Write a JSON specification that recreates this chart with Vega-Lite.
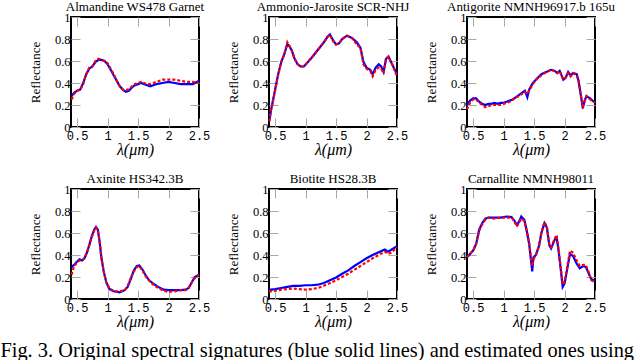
{
  "$schema": "https://vega.github.io/schema/vega-lite/v6.json",
  "padding": {"left": 0, "top": 0, "right": 0, "bottom": 0},
  "background": "white",
  "data": {"values": [
    {"m":1,"x":0.41,"b":0.28,"r":0.25},{"m":1,"x":0.45,"b":0.31,"r":0.30},{"m":1,"x":0.5,"b":0.33,"r":0.33},{"m":1,"x":0.55,"b":0.34,"r":0.34},{"m":1,"x":0.6,"b":0.40,"r":0.39},{"m":1,"x":0.65,"b":0.48,"r":0.48},{"m":1,"x":0.7,"b":0.53,"r":0.54},{"m":1,"x":0.75,"b":0.55,"r":0.55},{"m":1,"x":0.8,"b":0.59,"r":0.60},{"m":1,"x":0.85,"b":0.61,"r":0.62},{"m":1,"x":0.9,"b":0.61,"r":0.61},{"m":1,"x":0.95,"b":0.60,"r":0.60},{"m":1,"x":1.0,"b":0.57,"r":0.58},{"m":1,"x":1.05,"b":0.52,"r":0.53},{"m":1,"x":1.1,"b":0.47,"r":0.48},{"m":1,"x":1.15,"b":0.42,"r":0.42},{"m":1,"x":1.2,"b":0.37,"r":0.37},{"m":1,"x":1.25,"b":0.34,"r":0.34},{"m":1,"x":1.3,"b":0.32,"r":0.34},{"m":1,"x":1.35,"b":0.33,"r":0.34},{"m":1,"x":1.4,"b":0.36,"r":0.37},{"m":1,"x":1.45,"b":0.38,"r":0.39},{"m":1,"x":1.5,"b":0.39,"r":0.40},{"m":1,"x":1.55,"b":0.40,"r":0.41},{"m":1,"x":1.6,"b":0.39,"r":0.40},{"m":1,"x":1.65,"b":0.38,"r":0.39},{"m":1,"x":1.7,"b":0.37,"r":0.39},{"m":1,"x":1.75,"b":0.38,"r":0.40},{"m":1,"x":1.8,"b":0.39,"r":0.41},{"m":1,"x":1.9,"b":0.40,"r":0.43},{"m":1,"x":2.0,"b":0.41,"r":0.43},{"m":1,"x":2.1,"b":0.40,"r":0.43},{"m":1,"x":2.2,"b":0.39,"r":0.42},{"m":1,"x":2.3,"b":0.39,"r":0.41},{"m":1,"x":2.4,"b":0.39,"r":0.41},{"m":1,"x":2.5,"b":0.42,"r":0.40},

    {"m":2,"x":0.41,"b":0.07,"r":0.05},{"m":2,"x":0.43,"b":0.14,"r":0.17},{"m":2,"x":0.45,"b":0.20,"r":0.19},{"m":2,"x":0.5,"b":0.34,"r":0.33},{"m":2,"x":0.55,"b":0.48,"r":0.47},{"m":2,"x":0.6,"b":0.59,"r":0.59},{"m":2,"x":0.65,"b":0.66,"r":0.66},{"m":2,"x":0.7,"b":0.75,"r":0.77},{"m":2,"x":0.73,"b":0.74,"r":0.74},{"m":2,"x":0.77,"b":0.70,"r":0.70},{"m":2,"x":0.82,"b":0.62,"r":0.62},{"m":2,"x":0.87,"b":0.57,"r":0.57},{"m":2,"x":0.92,"b":0.55,"r":0.55},{"m":2,"x":0.97,"b":0.55,"r":0.55},{"m":2,"x":1.02,"b":0.58,"r":0.58},{"m":2,"x":1.1,"b":0.63,"r":0.63},{"m":2,"x":1.2,"b":0.70,"r":0.70},{"m":2,"x":1.3,"b":0.77,"r":0.77},{"m":2,"x":1.36,"b":0.82,"r":0.82},{"m":2,"x":1.4,"b":0.84,"r":0.84},{"m":2,"x":1.45,"b":0.79,"r":0.78},{"m":2,"x":1.5,"b":0.75,"r":0.75},{"m":2,"x":1.55,"b":0.76,"r":0.76},{"m":2,"x":1.6,"b":0.80,"r":0.80},{"m":2,"x":1.68,"b":0.83,"r":0.83},{"m":2,"x":1.76,"b":0.81,"r":0.81},{"m":2,"x":1.84,"b":0.77,"r":0.75},{"m":2,"x":1.9,"b":0.72,"r":0.72},{"m":2,"x":1.95,"b":0.59,"r":0.57},{"m":2,"x":2.0,"b":0.54,"r":0.53},{"m":2,"x":2.06,"b":0.52,"r":0.51},{"m":2,"x":2.1,"b":0.48,"r":0.46},{"m":2,"x":2.15,"b":0.54,"r":0.52},{"m":2,"x":2.2,"b":0.57,"r":0.54},{"m":2,"x":2.24,"b":0.55,"r":0.53},{"m":2,"x":2.28,"b":0.50,"r":0.49},{"m":2,"x":2.32,"b":0.62,"r":0.62},{"m":2,"x":2.36,"b":0.64,"r":0.64},{"m":2,"x":2.42,"b":0.57,"r":0.57},{"m":2,"x":2.5,"b":0.48,"r":0.46},

    {"m":3,"x":0.4,"b":0.20,"r":0.16},{"m":3,"x":0.45,"b":0.24,"r":0.22},{"m":3,"x":0.5,"b":0.26,"r":0.25},{"m":3,"x":0.55,"b":0.26,"r":0.25},{"m":3,"x":0.6,"b":0.23,"r":0.22},{"m":3,"x":0.65,"b":0.21,"r":0.20},{"m":3,"x":0.7,"b":0.20,"r":0.18},{"m":3,"x":0.75,"b":0.21,"r":0.19},{"m":3,"x":0.8,"b":0.21,"r":0.20},{"m":3,"x":0.85,"b":0.22,"r":0.20},{"m":3,"x":0.9,"b":0.21,"r":0.20},{"m":3,"x":0.95,"b":0.22,"r":0.20},{"m":3,"x":1.0,"b":0.22,"r":0.21},{"m":3,"x":1.05,"b":0.23,"r":0.22},{"m":3,"x":1.1,"b":0.24,"r":0.23},{"m":3,"x":1.15,"b":0.25,"r":0.25},{"m":3,"x":1.2,"b":0.27,"r":0.27},{"m":3,"x":1.25,"b":0.29,"r":0.28},{"m":3,"x":1.3,"b":0.31,"r":0.30},{"m":3,"x":1.35,"b":0.33,"r":0.32},{"m":3,"x":1.39,"b":0.27,"r":0.30},{"m":3,"x":1.42,"b":0.34,"r":0.33},{"m":3,"x":1.48,"b":0.40,"r":0.39},{"m":3,"x":1.55,"b":0.44,"r":0.44},{"m":3,"x":1.62,"b":0.48,"r":0.47},{"m":3,"x":1.7,"b":0.50,"r":0.50},{"m":3,"x":1.78,"b":0.52,"r":0.52},{"m":3,"x":1.84,"b":0.51,"r":0.51},{"m":3,"x":1.88,"b":0.49,"r":0.49},{"m":3,"x":1.92,"b":0.51,"r":0.51},{"m":3,"x":1.98,"b":0.43,"r":0.43},{"m":3,"x":2.02,"b":0.45,"r":0.45},{"m":3,"x":2.06,"b":0.50,"r":0.49},{"m":3,"x":2.1,"b":0.47,"r":0.46},{"m":3,"x":2.14,"b":0.49,"r":0.49},{"m":3,"x":2.2,"b":0.48,"r":0.47},{"m":3,"x":2.23,"b":0.42,"r":0.42},{"m":3,"x":2.27,"b":0.28,"r":0.28},{"m":3,"x":2.3,"b":0.17,"r":0.19},{"m":3,"x":2.33,"b":0.24,"r":0.23},{"m":3,"x":2.36,"b":0.28,"r":0.28},{"m":3,"x":2.42,"b":0.26,"r":0.25},{"m":3,"x":2.5,"b":0.22,"r":0.22},

    {"m":4,"x":0.41,"b":0.29,"r":0.22},{"m":4,"x":0.45,"b":0.31,"r":0.30},{"m":4,"x":0.5,"b":0.34,"r":0.33},{"m":4,"x":0.54,"b":0.36,"r":0.35},{"m":4,"x":0.58,"b":0.35,"r":0.35},{"m":4,"x":0.62,"b":0.37,"r":0.37},{"m":4,"x":0.66,"b":0.42,"r":0.42},{"m":4,"x":0.7,"b":0.49,"r":0.49},{"m":4,"x":0.74,"b":0.57,"r":0.56},{"m":4,"x":0.78,"b":0.63,"r":0.62},{"m":4,"x":0.81,"b":0.655,"r":0.65},{"m":4,"x":0.84,"b":0.63,"r":0.63},{"m":4,"x":0.87,"b":0.52,"r":0.52},{"m":4,"x":0.9,"b":0.37,"r":0.37},{"m":4,"x":0.94,"b":0.24,"r":0.24},{"m":4,"x":0.98,"b":0.15,"r":0.15},{"m":4,"x":1.03,"b":0.09,"r":0.10},{"m":4,"x":1.1,"b":0.07,"r":0.07},{"m":4,"x":1.2,"b":0.06,"r":0.07},{"m":4,"x":1.28,"b":0.08,"r":0.08},{"m":4,"x":1.33,"b":0.11,"r":0.12},{"m":4,"x":1.38,"b":0.18,"r":0.19},{"m":4,"x":1.43,"b":0.26,"r":0.25},{"m":4,"x":1.48,"b":0.30,"r":0.29},{"m":4,"x":1.52,"b":0.305,"r":0.30},{"m":4,"x":1.57,"b":0.27,"r":0.26},{"m":4,"x":1.62,"b":0.22,"r":0.21},{"m":4,"x":1.68,"b":0.17,"r":0.17},{"m":4,"x":1.75,"b":0.14,"r":0.13},{"m":4,"x":1.83,"b":0.11,"r":0.10},{"m":4,"x":1.92,"b":0.085,"r":0.075},{"m":4,"x":2.0,"b":0.08,"r":0.065},{"m":4,"x":2.1,"b":0.08,"r":0.07},{"m":4,"x":2.2,"b":0.08,"r":0.08},{"m":4,"x":2.28,"b":0.085,"r":0.08},{"m":4,"x":2.33,"b":0.10,"r":0.10},{"m":4,"x":2.38,"b":0.15,"r":0.15},{"m":4,"x":2.43,"b":0.20,"r":0.19},{"m":4,"x":2.5,"b":0.22,"r":0.22},

    {"m":5,"x":0.4,"b":0.083,"r":0.07},{"m":5,"x":0.5,"b":0.09,"r":0.075},{"m":5,"x":0.6,"b":0.10,"r":0.085},{"m":5,"x":0.7,"b":0.11,"r":0.09},{"m":5,"x":0.8,"b":0.12,"r":0.095},{"m":5,"x":0.9,"b":0.12,"r":0.09},{"m":5,"x":1.0,"b":0.125,"r":0.085},{"m":5,"x":1.1,"b":0.125,"r":0.09},{"m":5,"x":1.2,"b":0.13,"r":0.10},{"m":5,"x":1.3,"b":0.145,"r":0.12},{"m":5,"x":1.4,"b":0.17,"r":0.145},{"m":5,"x":1.5,"b":0.195,"r":0.17},{"m":5,"x":1.6,"b":0.23,"r":0.20},{"m":5,"x":1.7,"b":0.26,"r":0.23},{"m":5,"x":1.8,"b":0.30,"r":0.265},{"m":5,"x":1.9,"b":0.335,"r":0.30},{"m":5,"x":2.0,"b":0.37,"r":0.335},{"m":5,"x":2.1,"b":0.40,"r":0.37},{"m":5,"x":2.2,"b":0.425,"r":0.40},{"m":5,"x":2.3,"b":0.45,"r":0.43},{"m":5,"x":2.35,"b":0.43,"r":0.41},{"m":5,"x":2.4,"b":0.445,"r":0.42},{"m":5,"x":2.5,"b":0.48,"r":0.47},

    {"m":6,"x":0.4,"b":0.38,"r":0.38},{"m":6,"x":0.45,"b":0.41,"r":0.41},{"m":6,"x":0.5,"b":0.44,"r":0.44},{"m":6,"x":0.55,"b":0.50,"r":0.50},{"m":6,"x":0.6,"b":0.63,"r":0.62},{"m":6,"x":0.65,"b":0.69,"r":0.68},{"m":6,"x":0.7,"b":0.73,"r":0.72},{"m":6,"x":0.75,"b":0.74,"r":0.74},{"m":6,"x":0.85,"b":0.74,"r":0.73},{"m":6,"x":0.95,"b":0.74,"r":0.74},{"m":6,"x":1.05,"b":0.75,"r":0.74},{"m":6,"x":1.13,"b":0.745,"r":0.74},{"m":6,"x":1.18,"b":0.71,"r":0.70},{"m":6,"x":1.22,"b":0.67,"r":0.66},{"m":6,"x":1.26,"b":0.71,"r":0.70},{"m":6,"x":1.29,"b":0.75,"r":0.73},{"m":6,"x":1.34,"b":0.72,"r":0.71},{"m":6,"x":1.38,"b":0.62,"r":0.62},{"m":6,"x":1.42,"b":0.50,"r":0.51},{"m":6,"x":1.45,"b":0.35,"r":0.37},{"m":6,"x":1.47,"b":0.25,"r":0.30},{"m":6,"x":1.49,"b":0.38,"r":0.36},{"m":6,"x":1.53,"b":0.40,"r":0.40},{"m":6,"x":1.58,"b":0.48,"r":0.48},{"m":6,"x":1.62,"b":0.60,"r":0.60},{"m":6,"x":1.67,"b":0.69,"r":0.70},{"m":6,"x":1.71,"b":0.65,"r":0.66},{"m":6,"x":1.75,"b":0.49,"r":0.50},{"m":6,"x":1.78,"b":0.46,"r":0.47},{"m":6,"x":1.84,"b":0.54,"r":0.55},{"m":6,"x":1.87,"b":0.56,"r":0.58},{"m":6,"x":1.9,"b":0.45,"r":0.46},{"m":6,"x":1.94,"b":0.26,"r":0.28},{"m":6,"x":1.97,"b":0.11,"r":0.13},{"m":6,"x":2.0,"b":0.14,"r":0.15},{"m":6,"x":2.05,"b":0.29,"r":0.31},{"m":6,"x":2.09,"b":0.41,"r":0.44},{"m":6,"x":2.14,"b":0.39,"r":0.42},{"m":6,"x":2.2,"b":0.32,"r":0.35},{"m":6,"x":2.25,"b":0.28,"r":0.30},{"m":6,"x":2.31,"b":0.30,"r":0.31},{"m":6,"x":2.35,"b":0.29,"r":0.31},{"m":6,"x":2.39,"b":0.24,"r":0.25},{"m":6,"x":2.44,"b":0.18,"r":0.17},{"m":6,"x":2.5,"b":0.17,"r":0.15}
  ]},
  "columns": 3,
  "bounds": "flush",
  "spacing": {"row": 62, "column": 70},
  "concat": [
    {"title": "Almandine WS478 Garnet", "width": 128, "height": 110, "transform": [{"filter": "datum.m == 1"}],
     "layer": [
      {"mark": {"type": "line", "color": "#0000ff", "strokeWidth": 2.2},
       "encoding": {"x": {"field": "x", "type": "quantitative", "scale": {"domain": [0.4, 2.5], "nice": false, "zero": false}, "axis": {"orient": "bottom", "values": [0.5, 1, 1.5, 2, 2.5], "format": "~g", "title": "λ(μm)"}},
                    "y": {"field": "b", "type": "quantitative", "scale": {"domain": [0, 1], "nice": false}, "axis": {"orient": "left", "values": [0, 0.2, 0.4, 0.6, 0.8, 1], "format": "~g", "title": "Reflectance"}}}},
      {"mark": {"type": "line", "color": "#ff0000", "strokeWidth": 2.2, "strokeDash": [3, 2]},
       "encoding": {"x": {"field": "x", "type": "quantitative", "axis": {"orient": "top", "values": [0.5, 1, 1.5, 2, 2.5], "labels": false, "title": null}},
                    "y": {"field": "r", "type": "quantitative", "axis": {"orient": "right", "values": [0, 0.2, 0.4, 0.6, 0.8, 1], "labels": false, "title": null}}}}
     ], "resolve": {"axis": {"x": "independent", "y": "independent"}}},
    {"title": "Ammonio-Jarosite SCR-NHJ", "width": 128, "height": 110, "transform": [{"filter": "datum.m == 2"}],
     "layer": [
      {"mark": {"type": "line", "color": "#0000ff", "strokeWidth": 2.2},
       "encoding": {"x": {"field": "x", "type": "quantitative", "scale": {"domain": [0.4, 2.5], "nice": false, "zero": false}, "axis": {"orient": "bottom", "values": [0.5, 1, 1.5, 2, 2.5], "format": "~g", "title": "λ(μm)"}},
                    "y": {"field": "b", "type": "quantitative", "scale": {"domain": [0, 1], "nice": false}, "axis": {"orient": "left", "values": [0, 0.2, 0.4, 0.6, 0.8, 1], "format": "~g", "title": "Reflectance"}}}},
      {"mark": {"type": "line", "color": "#ff0000", "strokeWidth": 2.2, "strokeDash": [3, 2]},
       "encoding": {"x": {"field": "x", "type": "quantitative", "axis": {"orient": "top", "values": [0.5, 1, 1.5, 2, 2.5], "labels": false, "title": null}},
                    "y": {"field": "r", "type": "quantitative", "axis": {"orient": "right", "values": [0, 0.2, 0.4, 0.6, 0.8, 1], "labels": false, "title": null}}}}
     ], "resolve": {"axis": {"x": "independent", "y": "independent"}}},
    {"title": "Antigorite NMNH96917.b 165u", "width": 128, "height": 110, "transform": [{"filter": "datum.m == 3"}],
     "layer": [
      {"mark": {"type": "line", "color": "#0000ff", "strokeWidth": 2.2},
       "encoding": {"x": {"field": "x", "type": "quantitative", "scale": {"domain": [0.4, 2.5], "nice": false, "zero": false}, "axis": {"orient": "bottom", "values": [0.5, 1, 1.5, 2, 2.5], "format": "~g", "title": "λ(μm)"}},
                    "y": {"field": "b", "type": "quantitative", "scale": {"domain": [0, 1], "nice": false}, "axis": {"orient": "left", "values": [0, 0.2, 0.4, 0.6, 0.8, 1], "format": "~g", "title": "Reflectance"}}}},
      {"mark": {"type": "line", "color": "#ff0000", "strokeWidth": 2.2, "strokeDash": [3, 2]},
       "encoding": {"x": {"field": "x", "type": "quantitative", "axis": {"orient": "top", "values": [0.5, 1, 1.5, 2, 2.5], "labels": false, "title": null}},
                    "y": {"field": "r", "type": "quantitative", "axis": {"orient": "right", "values": [0, 0.2, 0.4, 0.6, 0.8, 1], "labels": false, "title": null}}}}
     ], "resolve": {"axis": {"x": "independent", "y": "independent"}}},
    {"title": "Axinite HS342.3B", "width": 128, "height": 110, "transform": [{"filter": "datum.m == 4"}],
     "layer": [
      {"mark": {"type": "line", "color": "#0000ff", "strokeWidth": 2.2},
       "encoding": {"x": {"field": "x", "type": "quantitative", "scale": {"domain": [0.4, 2.5], "nice": false, "zero": false}, "axis": {"orient": "bottom", "values": [0.5, 1, 1.5, 2, 2.5], "format": "~g", "title": "λ(μm)"}},
                    "y": {"field": "b", "type": "quantitative", "scale": {"domain": [0, 1], "nice": false}, "axis": {"orient": "left", "values": [0, 0.2, 0.4, 0.6, 0.8, 1], "format": "~g", "title": "Reflectance"}}}},
      {"mark": {"type": "line", "color": "#ff0000", "strokeWidth": 2.2, "strokeDash": [3, 2]},
       "encoding": {"x": {"field": "x", "type": "quantitative", "axis": {"orient": "top", "values": [0.5, 1, 1.5, 2, 2.5], "labels": false, "title": null}},
                    "y": {"field": "r", "type": "quantitative", "axis": {"orient": "right", "values": [0, 0.2, 0.4, 0.6, 0.8, 1], "labels": false, "title": null}}}}
     ], "resolve": {"axis": {"x": "independent", "y": "independent"}}},
    {"title": "Biotite HS28.3B", "width": 128, "height": 110, "transform": [{"filter": "datum.m == 5"}],
     "layer": [
      {"mark": {"type": "line", "color": "#0000ff", "strokeWidth": 2.2},
       "encoding": {"x": {"field": "x", "type": "quantitative", "scale": {"domain": [0.4, 2.5], "nice": false, "zero": false}, "axis": {"orient": "bottom", "values": [0.5, 1, 1.5, 2, 2.5], "format": "~g", "title": "λ(μm)"}},
                    "y": {"field": "b", "type": "quantitative", "scale": {"domain": [0, 1], "nice": false}, "axis": {"orient": "left", "values": [0, 0.2, 0.4, 0.6, 0.8, 1], "format": "~g", "title": "Reflectance"}}}},
      {"mark": {"type": "line", "color": "#ff0000", "strokeWidth": 2.2, "strokeDash": [3, 2]},
       "encoding": {"x": {"field": "x", "type": "quantitative", "axis": {"orient": "top", "values": [0.5, 1, 1.5, 2, 2.5], "labels": false, "title": null}},
                    "y": {"field": "r", "type": "quantitative", "axis": {"orient": "right", "values": [0, 0.2, 0.4, 0.6, 0.8, 1], "labels": false, "title": null}}}}
     ], "resolve": {"axis": {"x": "independent", "y": "independent"}}},
    {"title": "Carnallite NMNH98011", "width": 128, "height": 110, "transform": [{"filter": "datum.m == 6"}],
     "layer": [
      {"mark": {"type": "line", "color": "#0000ff", "strokeWidth": 2.2},
       "encoding": {"x": {"field": "x", "type": "quantitative", "scale": {"domain": [0.4, 2.5], "nice": false, "zero": false}, "axis": {"orient": "bottom", "values": [0.5, 1, 1.5, 2, 2.5], "format": "~g", "title": "λ(μm)"}},
                    "y": {"field": "b", "type": "quantitative", "scale": {"domain": [0, 1], "nice": false}, "axis": {"orient": "left", "values": [0, 0.2, 0.4, 0.6, 0.8, 1], "format": "~g", "title": "Reflectance"}}}},
      {"mark": {"type": "line", "color": "#ff0000", "strokeWidth": 2.2, "strokeDash": [3, 2]},
       "encoding": {"x": {"field": "x", "type": "quantitative", "axis": {"orient": "top", "values": [0.5, 1, 1.5, 2, 2.5], "labels": false, "title": null}},
                    "y": {"field": "r", "type": "quantitative", "axis": {"orient": "right", "values": [0, 0.2, 0.4, 0.6, 0.8, 1], "labels": false, "title": null}}}}
     ], "resolve": {"axis": {"x": "independent", "y": "independent"}}}
  ],
  "title": {"text": "Fig. 3.  Original spectral signatures (blue solid lines) and estimated ones using", "orient": "bottom", "anchor": "start", "font": "Liberation Serif", "fontSize": 20.4, "fontWeight": "normal", "color": "black", "offset": 11, "dx": -28},
  "config": {
    "view": {"stroke": "black", "strokeWidth": 2},
    "title": {"font": "Liberation Serif", "fontSize": 13, "fontWeight": "normal", "color": "black", "offset": -3},
    "axis": {"domain": false, "grid": false, "tickColor": "#a8a8a8", "tickSize": -9, "tickWidth": 1,
             "labelFont": "Liberation Mono", "labelFontSize": 12, "labelColor": "black", "labelFlush": false, "labelOverlap": false,
             "titleColor": "black", "titleFontWeight": "normal"},
    "axisX": {"labelPadding": 12, "titleFont": "Liberation Serif", "titleFontStyle": "italic", "titleFontSize": 16, "titlePadding": 0},
    "axisY": {"labelPadding": 10, "labelFont": "Liberation Serif", "labelFontSize": 12.5, "titleFont": "Liberation Serif", "titleFontSize": 13, "titlePadding": 12}
  }
}
